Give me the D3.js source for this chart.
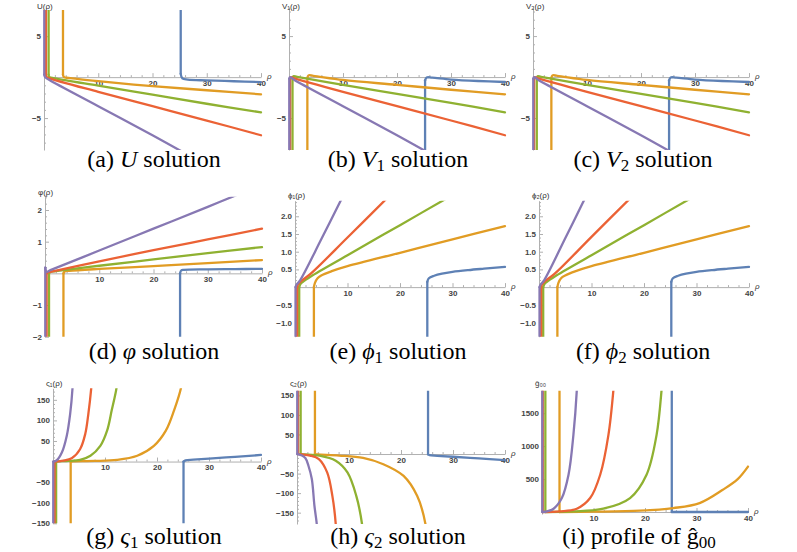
<!DOCTYPE html>
<html>
<head>
<meta charset="utf-8">
<script src="https://cdn.jsdelivr.net/npm/d3@7"></script>
<style>
  body { margin: 0; background: #fff; }
  svg { display: block; }
  .axis path, .axis line { stroke: #b0b0b0; stroke-width: 1; }
  .axis .tick text { font-family: "Liberation Sans", Arial, sans-serif; font-size: 8px; font-weight: bold; fill: #444; }
  .axis-label { font-family: "Liberation Sans", Arial, sans-serif; font-size: 8px; fill: #333; }
  .caption { font-family: "Liberation Serif", Tinos, "Times New Roman", Times, "Nimbus Roman", "Nimbus Roman No9 L", "Noto Serif", "DejaVu Serif", FreeSerif, serif; }
</style>
</head>
<body>
<svg id="chart" width="797" height="552"></svg>
<script>
// series order: blue, orange, green, red, purple (Mathematica default palette)
const seriesColors = ['#5E81B5', '#E19C24', '#8FB131', '#EB6235', '#8778B3'];
const rhoTicks = [10, 20, 30, 40];

// first point of each series is the far end of the vertical asymptote branch
// (a) U(rho)
const uData = [
  [[25.2, 12], [25.2, 0.4], [25.5, -0.15], [26.5, -0.3], [30, -0.4], [35, -0.5], [40, -0.6]],
  [[3.5, 12], [3.5, 0.3], [3.7, 0], [4.5, -0.1], [10, -0.5], [20, -1.1], [30, -1.6], [40, -2.1]],
  [[0.85, 12], [0.85, 0.3], [1.0, 0], [2, -0.15], [10, -1.05], [20, -2.15], [30, -3.25], [40, -4.3]],
  [[0.35, 12], [0.35, 0.3], [0.5, 0], [1, -0.15], [10, -1.8], [20, -3.55], [30, -5.3], [40, -7.1]],
  [[0.05, 12], [0.05, 0.3], [0.2, 0], [1, -0.35], [10, -3.55], [20, -7.1], [26, -9.3]]
];
// (b) V1(rho)
const v1Data = [
  [[25.2, -12], [25.2, -0.4], [25.5, -0.05], [26.5, -0.08], [30, -0.3], [35, -0.48], [40, -0.6]],
  [[3.4, -12], [3.4, -0.1], [3.6, 0.2], [4.5, 0.15], [10, -0.35], [20, -0.95], [30, -1.55], [40, -2.1]],
  [[0.65, -12], [0.65, -0.2], [0.8, 0.1], [1.5, 0.03], [10, -0.95], [20, -2.05], [30, -3.15], [40, -4.3]],
  [[0.2, -12], [0.2, -0.2], [0.35, 0], [1, -0.15], [10, -1.8], [20, -3.55], [30, -5.3], [40, -7.1]],
  [[0.05, -12], [0.05, -0.2], [0.2, 0], [1, -0.35], [10, -3.55], [20, -7.1], [26, -9.3]]
];
// (c) V2(rho)
const v2Data = [
  [[25.2, -12], [25.2, -0.4], [25.5, -0.05], [26.5, -0.08], [30, -0.3], [35, -0.48], [40, -0.6]],
  [[3.4, -12], [3.4, -0.1], [3.6, 0.2], [4.5, 0.15], [10, -0.35], [20, -0.95], [30, -1.55], [40, -2.1]],
  [[0.7, -12], [0.7, -0.2], [0.85, 0.1], [1.5, 0.03], [10, -0.95], [20, -2.05], [30, -3.15], [40, -4.3]],
  [[0.2, -12], [0.2, -0.2], [0.35, 0], [1, -0.15], [10, -1.8], [20, -3.55], [30, -5.3], [40, -7.1]],
  [[0.05, -12], [0.05, -0.2], [0.2, 0], [1, -0.35], [10, -3.55], [20, -7.1], [26, -9.3]]
];
// (d) varphi(rho)
const varphiData = [
  [[24.9, -3], [24.9, 0], [25.1, 0.09], [25.6, 0.11], [30, 0.125], [35, 0.135], [40, 0.14]],
  [[3.4, -3], [3.4, 0], [3.6, 0.06], [4.5, 0.08], [10, 0.14], [20, 0.23], [30, 0.32], [40, 0.42]],
  [[0.74, -3], [0.74, 0], [0.9, 0.04], [2, 0.07], [10, 0.24], [20, 0.44], [30, 0.64], [40, 0.83]],
  [[0.3, -3], [0.3, 0], [0.45, 0.03], [1, 0.05], [10, 0.38], [20, 0.73], [30, 1.07], [40, 1.41]],
  [[0.05, -3], [0.05, 0.18], [0.3, 0.05], [1, 0.1], [10, 0.72], [20, 1.41], [30, 2.1], [36, 2.52]]
];
// (e) phi1(rho)
const phi1Data = [
  [[25.2, -2], [25.2, 0.15], [25.5, 0.25], [26.5, 0.32], [28, 0.38], [30, 0.43], [33, 0.48], [36, 0.52], [40, 0.57]],
  [[3.6, -2], [3.6, 0], [3.8, 0.12], [4.3, 0.25], [5, 0.33], [7, 0.45], [10, 0.59], [20, 0.97], [30, 1.35], [40, 1.72]],
  [[0.8, -2], [0.8, 0], [1, 0.08], [1.5, 0.15], [3, 0.3], [10, 0.9], [20, 1.75], [30, 2.6]],
  [[0.4, -2], [0.4, 0], [0.6, 0.08], [1, 0.15], [3, 0.38], [10, 1.4], [18, 2.58]],
  [[0.1, -2], [0.1, 0], [0.3, 0.07], [1, 0.2], [5, 1.35], [9, 2.53]]
];
// (f) phi2(rho)
const phi2Data = [
  [[25.2, -2], [25.2, 0.15], [25.5, 0.25], [26.5, 0.32], [28, 0.38], [30, 0.43], [33, 0.48], [36, 0.52], [40, 0.57]],
  [[3.5, -2], [3.5, 0], [3.7, 0.12], [4.2, 0.25], [5, 0.33], [7, 0.45], [10, 0.59], [20, 0.97], [30, 1.35], [40, 1.72]],
  [[0.8, -2], [0.8, 0], [1, 0.08], [1.5, 0.15], [3, 0.3], [10, 0.9], [20, 1.75], [30, 2.6]],
  [[0.4, -2], [0.4, 0], [0.6, 0.08], [1, 0.15], [3, 0.38], [10, 1.42], [18, 2.6]],
  [[0.1, -2], [0.1, 0], [0.3, 0.07], [1, 0.2], [5, 1.38], [9, 2.58]]
];
// (g) varsigma1(rho)
const sigma1Data = [
  [[25.1, -200], [25.1, 0], [25.5, 3], [27, 4.5], [30, 7], [35, 11.5], [40, 16]],
  [[3.4, -200], [3.4, 0], [4, 0.5], [8, 1.5], [12.3, 4], [16.2, 14], [19.4, 38], [21.7, 75], [23.3, 125], [24.6, 178], [24.8, 195]],
  [[0.6, -200], [0.6, 0], [1, 0.5], [3, 1.5], [5.2, 4], [7.2, 14], [9.1, 38], [10.4, 75], [11.3, 125], [12.2, 178], [12.3, 195]],
  [[0.3, -200], [0.3, 0], [1, 0.5], [2, 2], [3.6, 8], [5.2, 30], [6.2, 67], [6.8, 116], [7.35, 178], [7.45, 195]],
  [[0.05, -200], [0.05, 0], [0.7, 3], [1.7, 22], [2.65, 63], [3.3, 116], [3.75, 178], [3.8, 195]]
];
// (h) varsigma2(rho)
const sigma2Data = [
  [[25.2, 200], [25.2, -1], [25.5, -3], [27, -4.5], [30, -7], [35, -11], [40, -15.5]],
  [[3.45, 200], [3.45, 0], [4, -1], [8.1, -4], [12.7, -10], [16.6, -26], [20.5, -56], [23.1, -107], [24.7, -179], [24.8, -195]],
  [[0.7, 200], [0.7, 0], [1.5, -1], [4.3, -4], [7.45, -17], [9.7, -47], [11.4, -107], [12.5, -179], [12.6, -195]],
  [[0.2, 200], [0.2, 0], [1, -1], [2.5, -4], [4.2, -13], [5.8, -47], [6.8, -107], [7.45, -179], [7.5, -195]],
  [[0.05, 200], [0.05, 0], [0.8, -3], [1.6, -10], [2.2, -30], [2.85, -64], [3.35, -132], [3.8, -179], [3.85, -195]]
];
// (i) g00 profile
const g00Data = [
  [[25.2, 1950], [25.2, 0], [40, 0]],
  [[3.4, 1950], [3.4, 0], [10, 5], [19, 20], [25.5, 60], [30.6, 136], [35.1, 338], [38, 500], [40, 690]],
  [[0.65, 1950], [0.65, 0], [6.1, 10], [11.9, 50], [17.1, 212], [20.3, 566], [22.25, 1172], [23.2, 1840], [23.3, 1950]],
  [[0.15, 1950], [0.15, 0], [3.5, 10], [6.75, 50], [9.35, 212], [11.3, 566], [12.9, 1172], [13.85, 1840], [13.95, 1950]],
  [[0.05, 1950], [0.05, 0], [1, 10], [2.25, 50], [3.85, 212], [5.15, 566], [6.1, 1172], [6.75, 1840], [6.8, 1950]]
];

const ticksUV = [-5, 5];
const ticksVarphi = [-2, -1, 1, 2];
const ticksPhi = [-1, -0.5, 0.5, 1, 1.5, 2];
const ticksSigma = [-150, -100, -50, 50, 100, 150];
const ticksG00 = [500, 1000, 1500];

const fmtInt = d3.format('d');
const fmt1 = d3.format('.1f');

const panels = [
  { data: uData, x0: 44, x1: 261, yTop: 10, yBot: 150, yDomain: [-8.9, 8.2], ticks: ticksUV, minor: 1, fmt: fmtInt,
    yLabel: 'U(ρ)', ly: 9, title: [['(a) '], ['U', 'i'], [' solution']], tx: 154, ty: 167 },
  { data: v1Data, x0: 289, x1: 505, yTop: 7, yBot: 150, yDomain: [-8.9, 8.55], ticks: ticksUV, minor: 1, fmt: fmtInt,
    yLabel: 'V₁(ρ)', ly: 9, title: [['(b) '], ['V', 'i'], ['1', 's'], [' solution']], tx: 398, ty: 167 },
  { data: v2Data, x0: 533, x1: 749, yTop: 7, yBot: 150, yDomain: [-8.9, 8.55], ticks: ticksUV, minor: 1, fmt: fmtInt,
    yLabel: 'V₂(ρ)', ly: 9, title: [['(c) '], ['V', 'i'], ['2', 's'], [' solution']], tx: 643, ty: 167 },
  { data: varphiData, x0: 45, x1: 262, yTop: 196.7, yBot: 336.7, yDomain: [-2, 2.42], ticks: ticksVarphi, minor: 0.2, fmt: fmtInt,
    yLabel: 'φ(ρ)', ly: 195, title: [['(d) '], ['φ', 'i'], [' solution']], tx: 154, ty: 359 },
  { data: phi1Data, x0: 295, x1: 505, yTop: 200.7, yBot: 336.7, yDomain: [-1.4, 2.44], ticks: ticksPhi, minor: 0.1, fmt: fmt1,
    yLabel: 'ϕ₁(ρ)', ly: 198, title: [['(e) '], ['ϕ', 'i'], ['1', 's'], [' solution']], tx: 398, ty: 359 },
  { data: phi2Data, x0: 539, x1: 749, yTop: 200.7, yBot: 336.7, yDomain: [-1.4, 2.44], ticks: ticksPhi, minor: 0.1, fmt: fmt1,
    yLabel: 'ϕ₂(ρ)', ly: 198, title: [['(f) '], ['ϕ', 'i'], ['2', 's'], [' solution']], tx: 643, ty: 359 },
  { data: sigma1Data, x0: 53, x1: 261, yTop: 388.3, yBot: 523.3, yDomain: [-150, 178], ticks: ticksSigma, minor: 10, fmt: fmtInt,
    yLabel: 'ς₁(ρ)', ly: 386, title: [['(g) '], ['ς', 'i'], ['1', 's'], [' solution']], tx: 154, ty: 544 },
  { data: sigma2Data, x0: 297, x1: 505, yTop: 390.7, yBot: 524, yDomain: [-179, 162], ticks: ticksSigma, minor: 10, fmt: fmtInt,
    yLabel: 'ς₂(ρ)', ly: 386, title: [['(h) '], ['ς', 'i'], ['2', 's'], [' solution']], tx: 398, ty: 544 },
  { data: g00Data, x0: 542, x1: 748, yTop: 390.7, yBot: 514, yDomain: [-30, 1842], ticks: ticksG00, minor: 100, fmt: fmtInt,
    yLabel: 'ĝ₀₀', ly: 386, title: [['(i) profile of '], ['ĝ'], ['00', 's']], tx: 639, ty: 544 }
];

const svg = d3.select('#chart');
svg.append('rect').attr('width', 797).attr('height', 552).attr('fill', '#fff');
const defs = svg.append('defs');

panels.forEach((p, i) => {
  const x = d3.scaleLinear().domain([0, 40]).range([p.x0, p.x1]);
  const y = d3.scaleLinear().domain(p.yDomain).range([p.yBot, p.yTop]);
  const g = svg.append('g');

  // minor ticks first
  const xMinor = d3.range(2, 40.01, 2).filter(v => v % 10 !== 0);
  g.append('g').attr('class', 'axis')
      .attr('transform', `translate(0,${y(0)})`)
      .call(d3.axisBottom(x).tickValues(xMinor).tickSizeInner(-2).tickSizeOuter(0).tickFormat(''))
      .select('.domain').remove();
  g.append('g').attr('class', 'axis')
      .attr('transform', `translate(0,${y(0)})`)
      .call(d3.axisBottom(x).tickValues(rhoTicks).tickSizeInner(-4).tickSizeOuter(0).tickPadding(3).tickFormat(fmtInt));

  const lo = Math.ceil(p.yDomain[0] / p.minor), hi = Math.floor(p.yDomain[1] / p.minor);
  const yMinor = d3.range(lo, hi + 1).map(k => +(k * p.minor).toFixed(4))
      .filter(v => v !== 0 && !p.ticks.some(t => Math.abs(t - v) < 1e-9));
  g.append('g').attr('class', 'axis')
      .attr('transform', `translate(${x(0)},0)`)
      .call(d3.axisLeft(y).tickValues(yMinor).tickSizeInner(-2).tickSizeOuter(0).tickFormat(''))
      .select('.domain').remove();
  g.append('g').attr('class', 'axis')
      .attr('transform', `translate(${x(0)},0)`)
      .call(d3.axisLeft(y).tickValues(p.ticks).tickSizeInner(-4).tickSizeOuter(0).tickPadding(3).tickFormat(p.fmt));

  // axis labels
  g.append('text').attr('class', 'axis-label')
      .attr('x', x(0) - 7).attr('y', p.ly)
      .text(p.yLabel);
  g.append('text').attr('class', 'axis-label')
      .attr('x', p.x1 + 6).attr('y', y(0) + 2)
      .style('font-style', 'italic')
      .text('ρ');

  // curves: straight asymptote piece, then a smooth branch
  const cid = 'clip' + i;
  defs.append('clipPath').attr('id', cid)
    .append('rect')
      .attr('x', p.x0 - 4).attr('y', p.yTop)
      .attr('width', p.x1 - p.x0 + 8).attr('height', p.yBot - p.yTop);

  const straight = d3.line().x(d => x(d[0])).y(d => y(d[1]));
  const smooth = d3.line().x(d => x(d[0])).y(d => y(d[1])).curve(d3.curveCatmullRom.alpha(0.5));

  const curves = g.append('g').attr('clip-path', `url(#${cid})`)
    .selectAll('g')
    .data(p.data)
    .join('g')
      .attr('fill', 'none')
      .attr('stroke', (d, j) => seriesColors[j])
      .attr('stroke-width', 2.3)
      .attr('stroke-linejoin', 'round')
      .attr('stroke-linecap', 'round');
  curves.append('path').attr('d', d => straight(d.slice(0, 2)));
  curves.append('path').attr('d', d => smooth(d.slice(1)));

  // caption
  const t = svg.append('text')
      .attr('class', 'caption')
      .attr('font-size', 24)
      .attr('fill', '#000')
      .attr('x', p.tx).attr('y', p.ty)
      .attr('text-anchor', 'middle');
  let shifted = false;
  p.title.forEach(([txt, kind]) => {
    const span = t.append('tspan').text(txt);
    if (kind === 'i') span.attr('font-style', 'italic');
    if (kind === 's') {
      span.attr('font-size', 17).attr('dy', 4);
      shifted = true;
    } else if (shifted) {
      span.attr('dy', -4);
      shifted = false;
    }
  });
});
</script>
</body>
</html>
